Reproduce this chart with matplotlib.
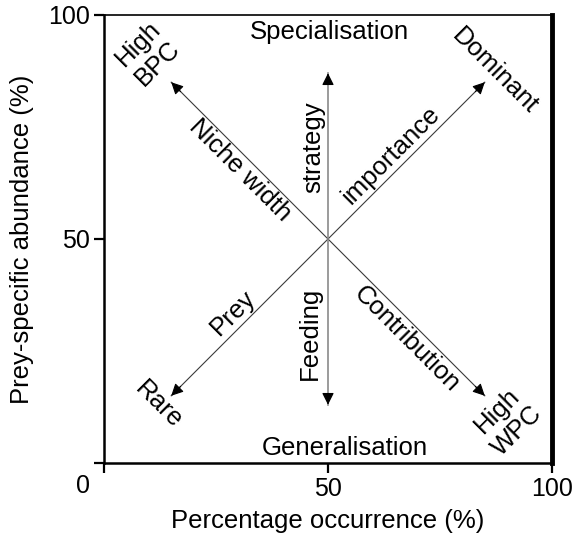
import matplotlib.pyplot as plt

plt.rcParams['font.family'] = ['Liberation Sans', 'DejaVu Sans']

# arrows start at the centre of the plot and point outwards
centre = (50, 50)
tips_x = [85, 15, 15, 85]
tips_y = [85, 85, 15, 15]
vert_top = 87
vert_bottom = 13

xticks = [0, 50, 100]
yticks = [0, 50, 100]
ytick_labels = ['', '50', '100']

fig = plt.figure(figsize=(5.74, 5.38), dpi=100)
ax = fig.add_axes([104/574, 1-463/538, 448/574, 448/538])
ax.set_xlim(0, 100)
ax.set_ylim(0, 100)

# diagonal arrows
for tx, ty in zip(tips_x, tips_y):
    ax.plot([centre[0], tx], [centre[1], ty], color='#3a3a3a', lw=0.8)
    dx = (tx - centre[0]) * 0.06
    dy = (ty - centre[1]) * 0.06
    ax.annotate('', xy=(tx, ty), xytext=(tx - dx, ty - dy),
                arrowprops=dict(arrowstyle='-|>', color='black', lw=0.8,
                                mutation_scale=18, shrinkA=0, shrinkB=0))

# vertical arrow (feeding strategy)
ax.plot([50, 50], [vert_bottom, vert_top], color='#8a8a8a', lw=1.2)
for ty in [vert_top, vert_bottom]:
    ax.annotate('', xy=(50, ty), xytext=(50, ty - (ty - 50) * 0.06),
                arrowprops=dict(arrowstyle='-|>', color='black', lw=0.8,
                                mutation_scale=18, shrinkA=0, shrinkB=0))

fs = 18.5
ax.text(50.4, 96.2, 'Specialisation', fontsize=fs, ha='center', va='center')
ax.text(53.8, 3.4, 'Generalisation', fontsize=fs, ha='center', va='center')
ax.text(30.4, 65.4, 'Niche width', fontsize=fs, rotation=-45, ha='center', va='center', rotation_mode='anchor')
ax.text(64.1, 68.7, 'importance', fontsize=fs, rotation=45, ha='center', va='center', rotation_mode='anchor')
ax.text(46.7, 70.5, 'strategy', fontsize=fs, rotation=90, ha='center', va='center', rotation_mode='anchor')
ax.text(46.0, 29.0, 'Feeding', fontsize=fs, rotation=90, ha='center', va='center', rotation_mode='anchor')
ax.text(28.8, 33.5, 'Prey', fontsize=fs, rotation=45, ha='center', va='center', rotation_mode='anchor')
ax.text(67.6, 27.7, 'Contribution', fontsize=fs, rotation=-45, ha='center', va='center', rotation_mode='anchor')
ax.text(9.8, 91.3, 'High\nBPC', fontsize=fs, rotation=45, ha='center', va='center',
        multialignment='center', rotation_mode='anchor', linespacing=1.2)
ax.text(87.3, 87.5, 'Dominant', fontsize=fs, rotation=-45, ha='center', va='center', rotation_mode='anchor')
ax.text(12.1, 12.9, 'Rare', fontsize=fs, rotation=-45, ha='center', va='center', rotation_mode='anchor')
ax.text(90.0, 9.4, 'High\nWPC', fontsize=fs, rotation=45, ha='center', va='center',
        multialignment='center', rotation_mode='anchor', linespacing=1.2)

# axes styling
ax.spines['left'].set_linewidth(1.8)
ax.spines['bottom'].set_linewidth(1.8)
ax.spines['top'].set_linewidth(1.2)
ax.spines['right'].set_linewidth(3.5)
ax.set_xticks(xticks)
ax.set_xticklabels(['', '50', '100'])
ax.set_yticks(yticks)
ax.set_yticklabels(ytick_labels)
ax.tick_params(direction='out', length=7, width=1.6, labelsize=18, pad=3)
ax.text(-4.7, -5.1, '0', fontsize=18, ha='center', va='center')
ax.set_xlabel('Percentage occurrence (%)', fontsize=18.5, labelpad=6)
ax.set_ylabel('Prey-specific abundance (%)', fontsize=18.5, labelpad=10)

fig.savefig('out.png', dpi=100)
